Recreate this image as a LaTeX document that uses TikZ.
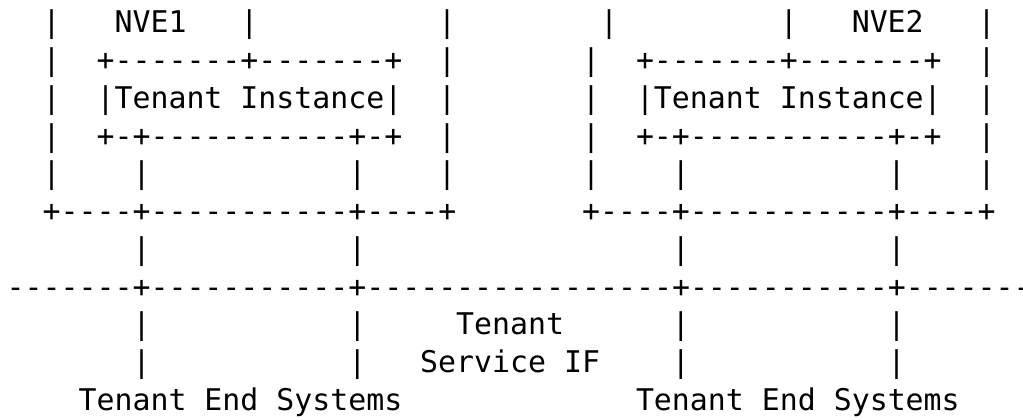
\documentclass[tikz,border=0pt]{standalone}
\usepackage{fontspec}
\setmonofont{DejaVu Sans Mono}
\begin{document}
\begin{tikzpicture}[x=1pt,y=1pt,
  ascii/.style={anchor=base west,inner sep=0pt,outer sep=0pt,
    font=\ttfamily\fontsize{29.87}{37.78}\selectfont}]
% character grid: column width, left offset, first baseline, line pitch
\def\cw{17.98}\def\xo{6.7}\def\yo{32.7}\def\lh{37.78}
\newcommand\cell[4]{\node[ascii] (#1) at ({\xo+#2*\cw},{-\yo-(#3-1)*\lh}) {#4};}
\fill[white] (0,0) rectangle (1023,-420);
\useasboundingbox (0,0) rectangle (1023,-420);
% row 1
\cell{a1}{2}{1}{|}
\cell{nveone}{6}{1}{NVE1}
\cell{a2}{13}{1}{|}
\cell{a3}{24}{1}{|}
\cell{a4}{33}{1}{|}
\cell{a5}{43}{1}{|}
\cell{nvetwo}{47}{1}{NVE2}
\cell{a6}{54}{1}{|}
% row 2
\cell{b1}{2}{2}{|}
\cell{tiTopL}{5}{2}{+-------+-------+}
\cell{b2}{24}{2}{|}
\cell{b3}{32}{2}{|}
\cell{tiTopR}{35}{2}{+-------+-------+}
\cell{b4}{54}{2}{|}
% row 3
\cell{c1}{2}{3}{|}
\cell{tiL}{5}{3}{|Tenant Instance|}
\cell{c2}{24}{3}{|}
\cell{c3}{32}{3}{|}
\cell{tiR}{35}{3}{|Tenant Instance|}
\cell{c4}{54}{3}{|}
% row 4
\cell{d1}{2}{4}{|}
\cell{tiBotL}{5}{4}{+-+-----------+-+}
\cell{d2}{24}{4}{|}
\cell{d3}{32}{4}{|}
\cell{tiBotR}{35}{4}{+-+-----------+-+}
\cell{d4}{54}{4}{|}
% row 5
\foreach \c [count=\i] in {2,7,19,24,32,37,49,54}{\cell{e\i}{\c}{5}{|}}
% row 6
\cell{nveBotL}{2}{6}{+----+-----------+----+}
\cell{nveBotR}{32}{6}{+----+-----------+----+}
% row 7
\foreach \c [count=\i] in {7,19,37,49}{\cell{f\i}{\c}{7}{|}}
% row 8: tenant service interface line
\cell{serviceif}{0}{8}{-------+-----------+-----------------+-----------+-------}
% rows 9 and 10
\foreach \c [count=\i] in {7,19,37,49}{\cell{g\i}{\c}{9}{|}\cell{h\i}{\c}{10}{|}}
\cell{tenantlbl}{25}{9}{Tenant}
\cell{servicelbl}{23}{10}{Service IF}
% row 11
\cell{endL}{4}{11}{Tenant End Systems}
\cell{endR}{35}{11}{Tenant End Systems}
\end{tikzpicture}
\end{document}
